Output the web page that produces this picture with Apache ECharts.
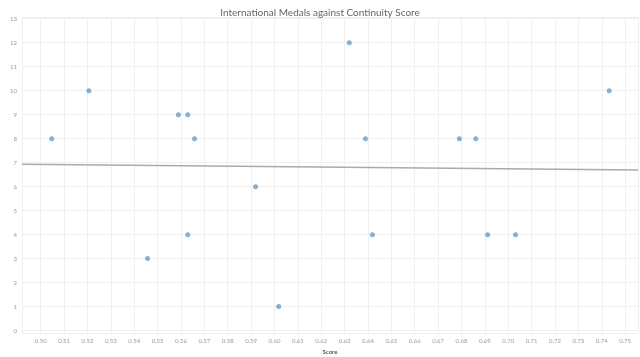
<!DOCTYPE html>
<html><head><meta charset="utf-8">
<script src="https://cdn.jsdelivr.net/npm/echarts@6/dist/echarts.min.js"></script>
<style>html,body{margin:0;padding:0;background:#fff}#c{width:640px;height:357px}</style>
</head><body><div id="c"></div>
<script>
const titleText = 'International Medals against Continuity Score';
const xTitle = 'Score';
const yTitle = 'Medals';
const scores = [0.5047,0.5206,0.5589,0.5629,0.5658,0.5919,0.5629,0.5457,0.6018,0.6320,0.7432,0.6389,0.6791,0.6861,0.6419,0.6912,0.7031];
const medals = [8,10,9,9,8,6,4,3,1,12,10,8,8,8,4,4,4];
const xMin = 0.492, xMax = 0.7555;
const yMin = -0.1, yMax = 13.05;

// linear regression trend line (computed from the data)
const n = scores.length;
const mx = scores.reduce((a,b)=>a+b,0)/n;
const my = medals.reduce((a,b)=>a+b,0)/n;
let sxy=0, sxx=0;
for (let i=0;i<n;i++){ sxy += (scores[i]-mx)*(medals[i]-my); sxx += (scores[i]-mx)**2; }
const slope = sxy/sxx, icpt = my - slope*mx;
const trend = [[xMin, icpt+slope*xMin],[xMax, icpt+slope*xMax]];

const chart = echarts.init(document.getElementById('c'), null, {renderer:'canvas'});
const font = 'Lato, "Open Sans", sans-serif';
chart.setOption({
  animation:false,
  title:{text:titleText,left:'center',top:3,textStyle:{fontFamily:font,fontSize:10,fontWeight:'normal',color:'#666'}},
  grid:{left:22,right:2,top:17.5,bottom:24,containLabel:false,outerBoundsMode:'none'},
  xAxis:{type:'value',min:xMin,max:xMax,splitNumber:26,
    name:xTitle,nameLocation:'middle',nameGap:16,nameTextStyle:{fontFamily:font,fontSize:6,color:'#555',fontWeight:'bold'},
    axisLine:{show:false},axisTick:{show:false},
    axisLabel:{fontFamily:font,fontSize:6,color:'#999',margin:5,showMinLabel:false,showMaxLabel:false,
      formatter:v=>{const r=Math.round(v*100); return Math.abs(v*100-r)<1e-6? (r/100).toFixed(2):'';}},
    splitLine:{lineStyle:{color:'#f0f0f0',width:1}}},
  yAxis:{type:'value',min:yMin,max:yMax,splitNumber:13,
    name:yTitle,nameLocation:'middle',nameGap:14,nameRotate:90,nameTextStyle:{fontFamily:font,fontSize:6,color:'#555',fontWeight:'bold'},
    axisLine:{show:false},axisTick:{show:false},
    axisLabel:{fontFamily:font,fontSize:6,color:'#999',margin:5,showMinLabel:false,showMaxLabel:false,
      formatter:v=>Math.abs(v-Math.round(v))<1e-6? String(Math.round(v)):''},
    splitLine:{lineStyle:{color:'#f0f0f0',width:1}}},
  series:[
    {type:'line',data:trend,symbol:'none',lineStyle:{color:'#aaaaaa',width:1.5},z:1,silent:true},
    {type:'scatter',data:scores.map((s,i)=>[s,medals[i]]),symbolSize:5,itemStyle:{color:'#6b9bcb'},z:2}
  ]
});
</script></body></html>
